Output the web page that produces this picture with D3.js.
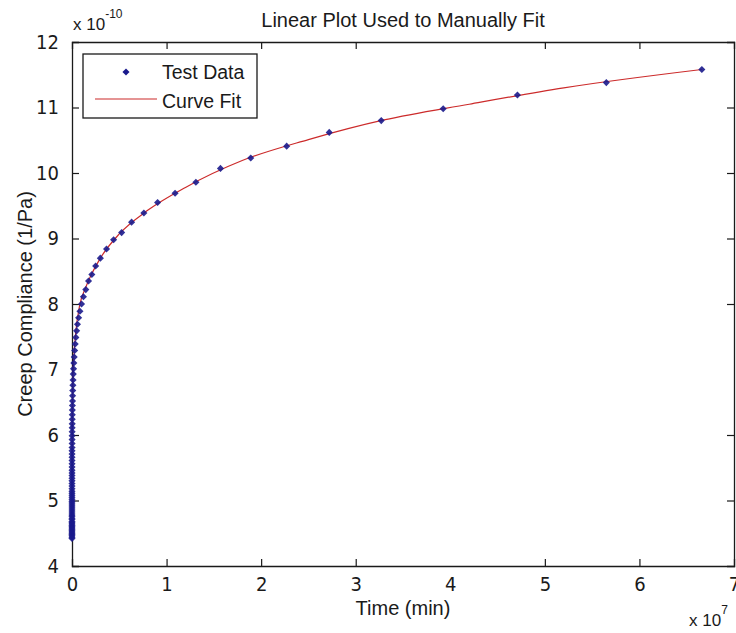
<!DOCTYPE html>
<html>
<head>
<meta charset="utf-8">
<script src="https://cdn.jsdelivr.net/npm/d3@7"></script>
<style>
  body { margin: 0; background: #fff; }
  text { font-family: "Liberation Sans", Arial, sans-serif; fill: #1a1a1a; }
  .tick text { font-family: "Liberation Sans Narrow", "DejaVu Sans Condensed", "Liberation Sans", sans-serif; }
</style>
</head>
<body>
<div class="chart"></div>
<script>
var svgWidth = 736;
var svgHeight = 633;

// plot box in pixels
var margin = { top: 42, right: 2, bottom: 67, left: 72 };
var width = svgWidth - margin.left - margin.right;
var height = svgHeight - margin.top - margin.bottom;

// time in units of 1e7 min, compliance in units of 1e-10 1/Pa
var testTime = [6.66, 5.65, 4.71, 3.925, 3.27, 2.72, 2.27, 1.89, 1.57, 1.31, 1.09, 0.905, 0.76, 0.63,
  0.525, 0.44, 0.365, 0.30, 0.25, 0.21, 0.175, 0.146, 0.121, 0.101, 0.084, 0.070, 0.058, 0.049,
  0.041, 0.034, 0.028, 0.0235, 0.0196, 0.0163, 0.0136, 0.0113, 0.0094, 0.0079, 0.0065, 0.0055,
  0.0045, 0.0038, 0.0032, 0.0026, 0.0022, 0.0018, 0.0015, 0.0013, 0.0011, 0.0009, 0.00075, 0.0006,
  0.0005, 0.0004, 0.00035, 0.0003, 0.00025, 0.0002, 0.00017, 0.00014, 0.00012, 0.0001, 0.00008,
  0.00007, 0.00006, 0.00005, 0.00004, 0.00003, 0.000025, 0.00002, 0.000017, 0.000014, 0.000012,
  0.00001, 0.000008, 0.000007, 0.000006, 0.000005, 0.000004, 0.0000035, 0.000003, 0.0000025,
  0.000002, 0.0000017, 0.0000014, 0.0000012, 0.000001, 0.0000008, 0.0000007, 0.0000006,
  0.0000005, 0.0000004, 0.0000003, 0.0000002, 0.0000001];
var testCompliance = [11.58, 11.38, 11.19, 10.98, 10.80, 10.62, 10.41, 10.23, 10.07, 9.86, 9.69, 9.55, 9.39, 9.25,
  9.09, 8.98, 8.84, 8.70, 8.58, 8.45, 8.35, 8.22, 8.11, 8.00, 7.89, 7.79, 7.69, 7.59,
  7.49, 7.39, 7.29, 7.19, 7.10, 7.01, 6.93, 6.84, 6.76, 6.68, 6.60, 6.52,
  6.45, 6.38, 6.31, 6.24, 6.17, 6.11, 6.05, 5.99, 5.93, 5.87, 5.81, 5.76,
  5.71, 5.66, 5.61, 5.56, 5.51, 5.46, 5.42, 5.38, 5.34, 5.30, 5.26,
  5.22, 5.18, 5.14, 5.11, 5.08, 5.05, 5.02, 4.99, 4.96, 4.93,
  4.90, 4.87, 4.84, 4.81, 4.78, 4.76, 4.73, 4.71, 4.68,
  4.66, 4.64, 4.62, 4.60, 4.58, 4.56, 4.54, 4.52,
  4.50, 4.48, 4.46, 4.44, 4.42];

var fitTime = [0.0000001, 0.00001, 0.0001, 0.0005, 0.001, 0.003, 0.006, 0.01, 0.02, 0.04, 0.08, 0.15,
  0.3, 0.5, 0.8, 1.2, 1.8, 2.5, 3.3, 4.2, 5.2, 6.66];
var fitCompliance = [4.42, 4.90, 5.30, 5.71, 5.93, 6.31, 6.60, 6.86, 7.19, 7.57, 7.97, 8.27,
  8.70, 9.07, 9.43, 9.78, 10.19, 10.51, 10.81, 11.05, 11.30, 11.58];

var xTicks = [0, 1, 2, 3, 4, 5, 6, 7];
var yTicks = [4, 5, 6, 7, 8, 9, 10, 11, 12];

var titleText = "Linear Plot Used to Manually Fit";
var xLabel = "Time (min)";
var yLabel = "Creep Compliance (1/Pa)";
var legendLabels = ["Test Data", "Curve Fit"];

var markerColor = "#1a1a8c";
var fitColor = "#cc2b2b";

var svg = d3.select(".chart")
  .append("svg")
  .attr("width", svgWidth)
  .attr("height", svgHeight);

svg.append("rect")
  .attr("width", svgWidth)
  .attr("height", svgHeight)
  .attr("fill", "#fff");

var chartGroup = svg.append("g")
  .attr("transform", `translate(${margin.left}, ${margin.top})`);

var xScale = d3.scaleLinear().domain([0, 7]).range([0, width]);
var yScale = d3.scaleLinear().domain([4, 12]).range([height, 0]);

// inward ticks on all four sides, matlab style
var tickLen = 7;
chartGroup.append("g")
  .attr("class", "x-axis")
  .attr("transform", `translate(0, ${height})`)
  .call(d3.axisBottom(xScale).tickValues(xTicks).tickSize(-tickLen).tickPadding(11).tickFormat(d3.format("d")));
chartGroup.append("g")
  .attr("class", "x-axis-top")
  .call(d3.axisTop(xScale).tickValues(xTicks).tickSize(-tickLen).tickFormat(""));
chartGroup.append("g")
  .attr("class", "y-axis")
  .call(d3.axisLeft(yScale).tickValues(yTicks).tickSize(-tickLen).tickPadding(13).tickFormat(d3.format("d")));
chartGroup.append("g")
  .attr("class", "y-axis-right")
  .attr("transform", `translate(${width}, 0)`)
  .call(d3.axisRight(yScale).tickValues(yTicks).tickSize(-tickLen).tickFormat(""));

chartGroup.selectAll(".domain").attr("stroke", "#1a1a1a").attr("stroke-width", 1.3);
chartGroup.selectAll(".tick line").attr("stroke", "#1a1a1a").attr("stroke-width", 1.2);
chartGroup.selectAll(".tick text").attr("font-size", "20px").attr("fill", "#1a1a1a");
// hide the end ticks that sit on the box
chartGroup.selectAll(".tick line").filter(d => d === 0 || d === 7 || d === 4 || d === 12).remove();

// curve fit line
var fitData = fitTime.map((t, i) => ({ t: t, j: fitCompliance[i] }));
chartGroup.append("path")
  .datum(fitData)
  .attr("fill", "none")
  .attr("stroke", fitColor)
  .attr("stroke-width", 1.2)
  .attr("d", d3.line().x(d => xScale(d.t)).y(d => yScale(d.j)).curve(d3.curveMonotoneX));

// test data markers
var testData = testTime.map((t, i) => ({ t: t, j: testCompliance[i] }));
var marker = d3.symbol().type(d3.symbolDiamond2).size(32);
chartGroup.selectAll(".pt")
  .data(testData)
  .enter()
  .append("path")
  .attr("class", "pt")
  .attr("transform", d => `translate(${xScale(d.t)}, ${yScale(d.j)})`)
  .attr("d", marker)
  .attr("fill", markerColor)
  .attr("opacity", 0.9);

// legend
var legend = chartGroup.append("g").attr("transform", "translate(11, 12)");
legend.append("rect")
  .attr("width", 174)
  .attr("height", 64)
  .attr("fill", "#fff")
  .attr("stroke", "#1a1a1a")
  .attr("stroke-width", 1.3);
legend.append("path")
  .attr("transform", "translate(43, 18)")
  .attr("d", marker)
  .attr("fill", markerColor);
legend.append("line")
  .attr("x1", 12).attr("x2", 74)
  .attr("y1", 45).attr("y2", 45)
  .attr("stroke", fitColor)
  .attr("stroke-width", 1.2);
legend.selectAll(".leg-text")
  .data(legendLabels)
  .enter()
  .append("text")
  .attr("x", 79)
  .attr("y", (d, i) => 18 + i * 29)
  .attr("dy", "0.35em")
  .attr("font-size", "19.5px")
  .text(d => d);

// title
svg.append("text")
  .attr("x", margin.left + width / 2)
  .attr("y", 27)
  .attr("text-anchor", "middle")
  .attr("font-size", "20px")
  .text(titleText);

// axis labels
svg.append("text")
  .attr("x", margin.left + width / 2)
  .attr("y", 615)
  .attr("text-anchor", "middle")
  .attr("font-size", "20px")
  .text(xLabel);

svg.append("text")
  .attr("transform", "rotate(-90)")
  .attr("x", -(margin.top + height / 2))
  .attr("y", 32)
  .attr("text-anchor", "middle")
  .attr("font-size", "20px")
  .text(yLabel);

// exponent labels
var yExp = svg.append("text")
  .attr("x", 73)
  .attr("y", 30)
  .attr("font-size", "17px");
yExp.append("tspan").text("x 10");
yExp.append("tspan").attr("dy", -12).attr("font-size", "12px").text("-10");

var xExp = svg.append("text")
  .attr("x", 689)
  .attr("y", 626)
  .attr("font-size", "17px");
xExp.append("tspan").text("x 10");
xExp.append("tspan").attr("dy", -12).attr("font-size", "12px").text("7");
</script>
</body>
</html>
